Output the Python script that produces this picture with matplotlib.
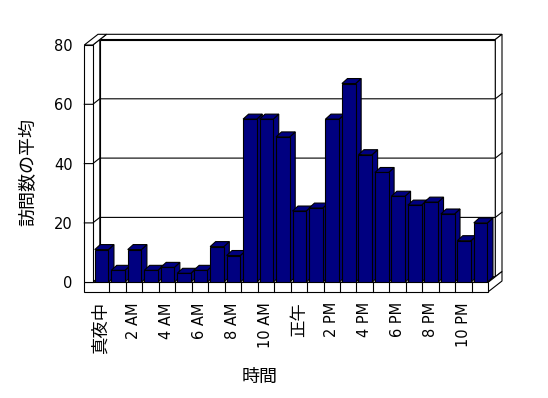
import matplotlib
matplotlib.use('Agg')
import matplotlib.pyplot as plt
from matplotlib.patches import Polygon

plt.rcParams['font.family'] = ['DejaVu Sans', 'Noto Sans CJK JP']

# average visits per hour of the day
visits = [11, 4, 11, 4, 5, 3, 4, 12, 9, 55, 55, 49,
          24, 25, 55, 67, 43, 37, 29, 26, 27, 23, 14, 20]
hour_labels = ['真夜中', '2 AM', '4 AM', '6 AM', '8 AM', '10 AM',
               '正午', '2 PM', '4 PM', '6 PM', '8 PM', '10 PM']
y_ticks = [0, 20, 40, 60, 80]
x_title = '時間'
y_title = '訪問数の平均'

NAVY = '#000080'
LW = 0.8

W, H = 548, 398
fig = plt.figure(figsize=(W / 100, H / 100), dpi=100)
ax_l, ax_t, ax_r, ax_b = 92.8, 45.0, 488.3, 282.2
ax = fig.add_axes([ax_l / W, 1 - ax_b / H, (ax_r - ax_l) / W, (ax_b - ax_t) / H])
n = len(visits)
ax.set_xlim(0, n)
ax.set_ylim(0, 80)
for s in ax.spines.values():
    s.set_visible(False)

# pixels per data unit, used to turn pixel depth offsets into data offsets
UX = (ax_r - ax_l) / n
UY = (ax_b - ax_t) / 80


def sh(x, y, d=(0, 0)):
    return (x + d[0] / UX, y + d[1] / UY)


def poly(pts, fc='white', z=1):
    ax.add_patch(Polygon(pts, closed=True, fc=fc, ec='black', lw=LW,
                         clip_on=False, zorder=z))


D1 = (7.0, 5.5)     # back wall front surface
D2 = (13.7, 10.7)   # back wall back surface
BD = (5.5, 5.0)     # bar depth
xl = -8.5 / UX      # left wall thickness
yb = -9.5 / UY      # floor thickness

# back wall, its top and right side
poly([sh(0, 0, D1), sh(n, 0, D1), sh(n, 80, D1), sh(0, 80, D1)])
poly([sh(0, 80, D1), sh(n, 80, D1), sh(n, 80, D2), sh(0, 80, D2)])
poly([sh(n, 0, D1), sh(n, 80, D1), sh(n, 80, D2), sh(n, 0, D2)])
# left wall inner face
poly([sh(0, 0), sh(0, 80), sh(0, 80, D1), sh(0, 0, D1)])
# floor top and right side
poly([sh(0, 0), sh(n, 0), sh(n, 0, D1), sh(0, 0, D1)])
poly([sh(n, yb), sh(n, 0), sh(n, 0, D2), sh(n, yb, D2)])
# floor front with cell dividers
poly([sh(xl, yb), sh(n, yb), sh(n, 0), sh(xl, 0)])
for i in range(1, n):
    ax.plot([i, i], [yb, 0], color='black', lw=LW, clip_on=False, zorder=1)
# left wall front and top
poly([sh(xl, 0), sh(0, 0), sh(0, 80), sh(xl, 80)], z=2)
poly([sh(xl, 80), sh(0, 80), sh(0, 80, D2), sh(xl, 80, D2)], z=2)

# gridlines on left wall and back wall
for v in y_ticks[1:-1]:
    pts = [sh(xl, v), sh(0, v), sh(0, v, D1), sh(n, v, D1), sh(n, v, D2)]
    ax.plot([p[0] for p in pts], [p[1] for p in pts], color='black',
            lw=LW, clip_on=False, zorder=2)

# bars: front faces from ax.bar, side and top faces added per bar
x0 = [i + 0.12 for i in range(n)]
bw = 0.83
bars = ax.bar(x0, visits, width=bw, align='edge', color=NAVY,
              edgecolor='black', lw=LW, zorder=3)
for i, (rect, v) in enumerate(zip(bars, visits)):
    a, b = x0[i], x0[i] + bw
    z = 5 + 2 * i
    poly([sh(b, 0), sh(b, v), sh(b, v, BD), sh(b, 0, BD)], fc=NAVY, z=z)
    poly([sh(a, v), sh(b, v), sh(b, v, BD), sh(a, v, BD)], fc=NAVY, z=z)
    rect.set_zorder(z + 1)

ax.set_yticks(y_ticks)
ax.tick_params(axis='y', length=0, pad=14.5, labelsize=10.5)
ax.set_xticks([i + 0.5 for i in range(0, n, 2)])
ax.set_xticklabels(hour_labels, rotation=90, va='top', ha='center')
ax.tick_params(axis='x', length=0, pad=14.4, labelsize=10.5)
for t in ax.get_xticklabels():
    if not t.get_text().isascii():
        t.set_fontsize(12.5)

fig.text(260 / W, 1 - 377 / H, x_title, ha='center', va='center', fontsize=13)
fig.text(28 / W, 1 - 172 / H, y_title, ha='center', va='center',
         rotation=90, fontsize=13)

fig.savefig('out.png', dpi=100)
